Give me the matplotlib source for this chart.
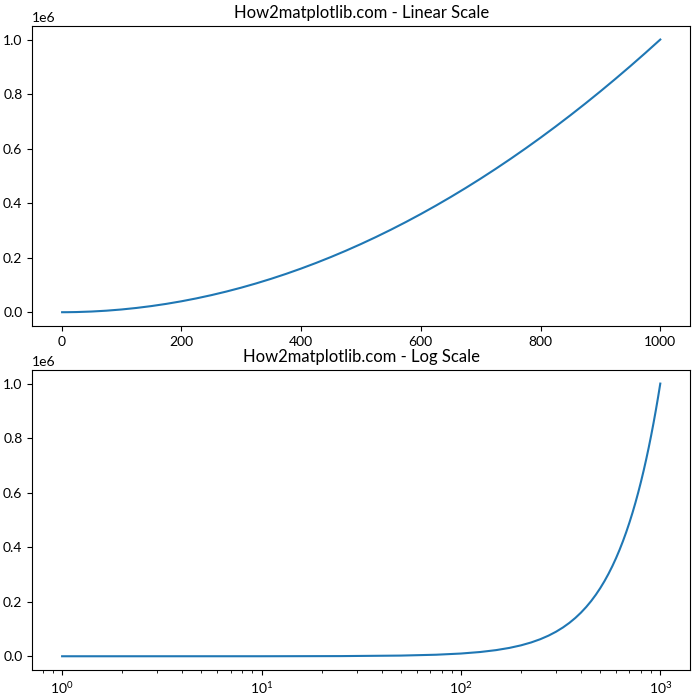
import matplotlib
matplotlib.use("Agg")
import matplotlib.pyplot as plt

plt.rcParams['font.family'] = ['Lato', 'DejaVu Sans']
plt.rcParams['mathtext.fontset'] = 'custom'
plt.rcParams['mathtext.rm'] = 'Lato'
plt.rcParams['mathtext.it'] = 'Lato'

x_values = [1, 10, 25, 50, 75, 100, 125, 150, 175, 200, 225, 250, 275, 300, 325,
            350, 375, 400, 425, 450, 475, 500, 525, 550, 575, 600, 625, 650, 675,
            700, 725, 750, 775, 800, 825, 850, 875, 900, 925, 950, 975, 1000]
y_values = [1, 100, 625, 2500, 5625, 10000, 15625, 22500, 30625, 40000, 50625,
            62500, 75625, 90000, 105625, 122500, 140625, 160000, 180625, 202500,
            225625, 250000, 275625, 302500, 330625, 360000, 390625, 422500,
            455625, 490000, 525625, 562500, 600625, 640000, 680625, 722500,
            765625, 810000, 855625, 902500, 950625, 1000000]

titles = ["How2matplotlib.com - Linear Scale", "How2matplotlib.com - Log Scale"]

fig, (ax1, ax2) = plt.subplots(2, 1, figsize=(7, 7), dpi=100)
ax1.plot(x_values, y_values)
ax1.set_title(titles[0])
ax2.plot(x_values, y_values)
ax2.set_xscale('log')
ax2.set_title(titles[1])
fig.subplots_adjust(left=0.046, right=0.986, top=0.963, bottom=0.043, hspace=0.147)
fig.savefig("out.png")
